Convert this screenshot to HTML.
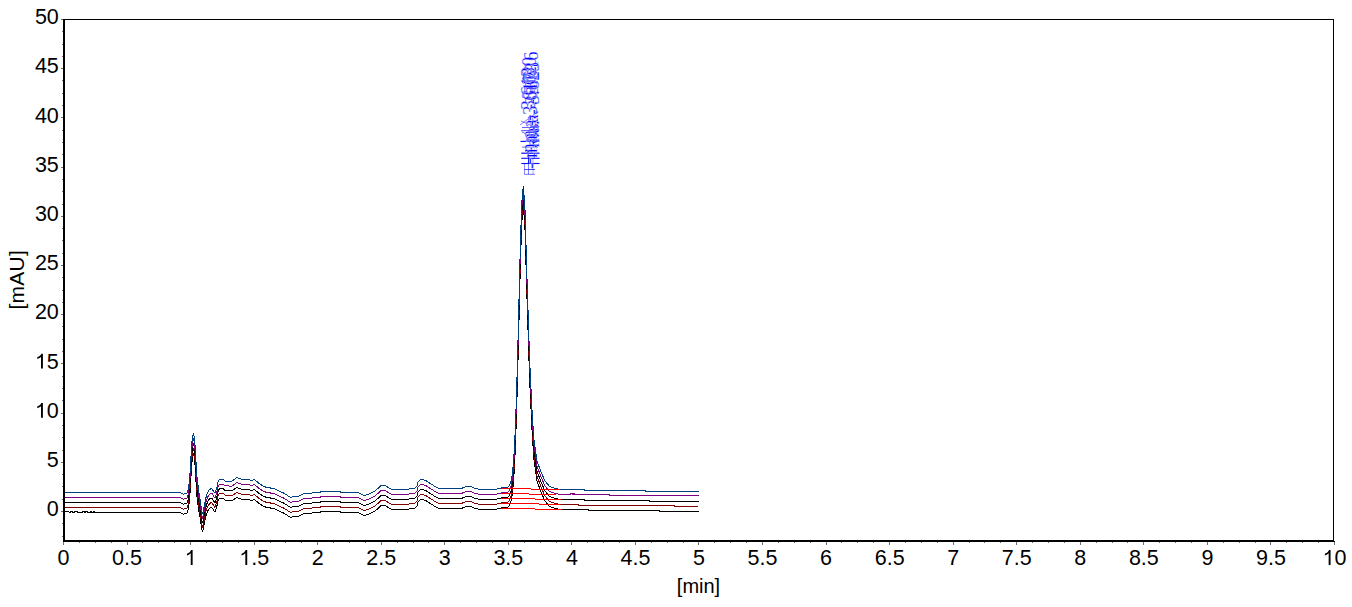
<!DOCTYPE html><html><head><meta charset="utf-8"><style>html,body{margin:0;padding:0;background:#fff;}svg{display:block}</style></head><body>
<svg width="1352" height="607" viewBox="0 0 1352 607">
<rect width="100%" height="100%" fill="#fff"/>
<polyline fill="none" stroke="#000000" stroke-width="1" shape-rendering="crispEdges" points="63.50,511.50 68.80,511.50 69.20,512.50 70.00,512.50 70.40,511.50 72.50,511.50 72.90,512.50 74.00,512.50 74.40,511.50 77.30,511.50 77.70,512.50 82.50,512.50 82.90,511.50 84.20,511.50 84.60,512.50 85.20,512.50 85.60,511.50 87.30,511.50 87.70,512.50 90.00,512.50 90.40,511.50 91.50,511.50 91.90,512.50 93.50,512.50 93.90,511.50 94.60,511.50 95.00,512.50 180.00,512.50 181.50,513.40 183.00,514.20 186.00,513.60 187.50,512.40 188.50,508.00 189.50,501.00 190.50,486.00 191.40,469.00 192.30,458.00 193.30,453.30 194.30,457.00 195.30,468.00 196.20,486.00 196.80,495.00 198.20,506.20 199.30,513.47 200.40,519.00 201.30,526.00 202.30,532.00 203.30,529.00 204.30,524.00 205.60,517.44 206.60,513.84 208.40,509.60 210.80,507.40 211.80,507.40 213.80,510.60 215.00,512.10 216.80,506.60 218.20,500.20 219.50,498.20 223.40,498.20 225.00,500.00 232.00,500.80 236.80,497.40 241.00,499.00 250.00,500.00 252.00,500.50 254.60,499.60 259.50,503.80 264.50,506.80 274.00,508.70 284.00,513.20 290.00,517.10 297.00,516.70 304.00,513.70 315.00,512.70 323.00,511.70 340.00,511.70 341.00,512.40 358.00,512.40 364.00,515.50 370.00,513.70 375.00,511.20 381.00,505.50 385.00,505.50 390.00,508.50 391.00,509.20 404.00,509.20 405.00,510.20 406.00,509.20 414.00,508.70 417.00,506.30 418.00,502.30 421.00,499.30 425.50,500.30 430.00,503.30 434.00,505.80 438.00,508.20 462.00,508.20 467.00,506.30 470.00,506.30 474.00,508.00 478.00,509.00 496.70,509.00 498.70,508.40 504.60,507.56 504.85,507.55 505.10,507.55 505.35,507.54 505.60,507.53 505.85,507.51 506.10,507.48 506.35,507.45 506.60,507.41 506.85,507.36 507.10,507.29 507.35,507.21 507.60,507.11 507.85,506.99 508.10,506.85 508.35,506.67 508.60,506.46 508.85,506.21 509.10,505.92 509.35,505.57 509.60,505.16 509.85,504.68 510.10,504.12 510.35,503.46 510.60,502.71 510.85,501.84 511.10,500.84 511.35,499.70 511.60,498.39 511.85,496.91 512.10,495.24 512.35,493.35 512.60,491.24 512.85,488.87 513.10,486.22 513.35,483.29 513.60,480.05 513.85,476.47 514.10,472.55 514.35,468.26 514.60,463.59 514.85,458.53 515.10,453.06 515.35,447.17 515.60,440.86 515.85,434.13 516.10,426.98 516.35,419.41 516.60,411.45 516.85,403.09 517.10,394.37 517.35,385.32 517.60,375.96 517.85,366.33 518.10,356.47 518.35,346.45 518.60,336.30 518.85,326.09 519.10,315.87 519.35,305.73 519.60,295.72 519.85,285.91 520.10,276.39 520.35,267.21 520.60,258.47 520.85,250.22 521.10,242.53 521.35,235.48 521.60,229.13 521.85,223.52 522.10,218.72 522.35,214.76 522.60,211.69 522.85,209.53 523.10,208.30 523.35,208.50 523.60,211.00 523.85,213.51 524.10,216.01 524.35,218.51 524.60,221.01 524.85,224.76 525.10,233.45 525.35,242.14 525.60,250.84 525.85,259.54 526.10,268.23 526.35,276.93 526.60,285.63 526.85,293.79 527.10,301.59 527.35,309.39 527.60,317.19 527.85,325.00 528.10,332.78 528.35,340.53 528.60,348.28 528.85,356.03 529.10,363.78 529.35,371.53 529.60,379.29 529.85,384.61 530.10,389.94 530.35,395.27 530.60,400.60 530.85,405.92 531.10,411.25 531.35,416.58 531.60,421.91 531.85,427.24 532.10,431.94 532.35,435.71 532.60,439.47 532.85,443.24 533.10,447.00 533.35,450.77 533.60,454.53 533.85,458.30 534.10,461.23 534.35,462.92 534.60,464.60 534.85,466.29 535.10,467.98 535.35,469.66 535.60,471.35 535.85,473.04 536.10,474.72 536.35,476.41 536.60,478.10 536.85,479.79 537.10,481.08 537.35,481.80 537.60,482.52 537.85,483.24 538.10,483.95 538.35,484.67 538.60,485.39 538.85,486.11 539.10,486.82 539.35,487.54 539.60,488.26 539.85,488.98 540.10,489.69 540.35,490.41 540.60,491.07 540.85,491.63 541.10,492.19 541.35,492.75 541.60,493.31 541.85,493.87 542.10,494.43 542.35,494.99 542.60,495.55 542.85,496.11 543.10,496.67 543.35,497.23 543.60,497.79 543.85,498.35 544.10,498.91 544.35,499.47 544.60,500.03 544.85,500.59 545.10,501.05 545.35,501.36 545.60,501.67 545.85,501.97 546.10,502.28 546.35,502.58 546.60,502.89 546.85,503.20 547.10,503.50 547.35,503.81 547.60,504.12 547.85,504.42 548.10,504.73 548.35,505.04 548.60,505.34 548.85,505.65 549.10,505.96 549.35,506.22 549.60,506.32 549.85,506.42 550.10,506.52 550.35,506.62 550.60,506.72 550.85,506.82 551.10,506.92 551.35,507.02 551.60,507.12 551.85,507.21 552.10,507.31 552.35,507.41 552.60,507.51 552.85,507.61 553.10,507.71 553.35,507.81 553.60,507.91 553.85,508.01 554.10,508.11 554.35,508.20 554.60,508.26 554.85,508.32 555.10,508.38 555.35,508.44 555.60,508.50 555.85,508.56 556.10,508.62 556.35,508.67 556.60,508.73 556.85,508.79 557.10,508.85 557.35,508.91 557.60,508.97 557.85,509.03 558.10,509.09 558.35,509.15 558.60,509.21 558.85,509.27 559.10,509.33 559.35,509.39 559.60,509.44 559.85,509.50 560.00,509.50 588.50,509.50 588.60,510.50 659.50,510.50 659.60,511.50 698.50,511.50"/>
<polyline fill="none" stroke="#800000" stroke-width="1" shape-rendering="crispEdges" points="63.50,507.50 180.00,507.50 181.50,508.40 183.00,509.20 186.00,508.60 187.50,507.40 188.50,503.00 189.50,496.00 190.50,481.00 191.40,464.00 192.30,453.00 193.30,448.30 194.30,452.00 195.30,463.00 196.20,481.00 196.80,490.00 198.20,501.40 199.30,508.85 200.40,514.50 201.30,521.50 202.30,527.50 203.30,524.50 204.30,519.50 205.60,512.88 206.60,509.18 208.40,504.90 210.80,502.70 211.80,502.70 213.80,505.90 215.00,507.40 216.80,501.90 218.20,495.50 219.50,493.50 223.40,493.50 225.00,495.30 232.00,495.90 236.80,492.40 241.00,494.00 250.00,495.00 252.00,495.50 254.60,494.60 259.50,498.80 264.50,501.80 274.00,503.70 284.00,508.20 290.00,512.10 297.00,511.70 304.00,508.70 315.00,507.70 323.00,506.70 340.00,506.70 341.00,507.40 358.00,507.40 364.00,510.50 370.00,508.70 375.00,506.20 381.00,500.50 385.00,500.50 390.00,503.50 391.00,504.20 404.00,504.20 405.00,505.20 406.00,504.20 414.00,503.70 417.00,501.30 418.00,497.30 421.00,494.30 425.50,495.30 430.00,498.30 434.00,500.80 438.00,503.20 462.00,503.20 467.00,501.30 470.00,501.30 474.00,503.00 478.00,504.00 496.70,504.00 498.70,503.40 504.60,502.56 504.85,502.55 505.10,502.55 505.35,502.54 505.60,502.53 505.85,502.51 506.10,502.48 506.35,502.45 506.60,502.41 506.85,502.36 507.10,502.29 507.35,502.21 507.60,502.11 507.85,501.99 508.10,501.85 508.35,501.67 508.60,501.46 508.85,501.21 509.10,500.92 509.35,500.57 509.60,500.16 509.85,499.68 510.10,499.12 510.35,498.46 510.60,497.71 510.85,496.84 511.10,495.84 511.35,494.70 511.60,493.39 511.85,491.91 512.10,490.24 512.35,488.35 512.60,486.24 512.85,483.87 513.10,481.22 513.35,478.29 513.60,475.05 513.85,471.47 514.10,467.55 514.35,463.26 514.60,458.59 514.85,453.53 515.10,448.06 515.35,442.17 515.60,435.86 515.85,429.13 516.10,421.98 516.35,414.41 516.60,406.45 516.85,398.09 517.10,389.37 517.35,380.32 517.60,370.96 517.85,361.33 518.10,351.47 518.35,341.45 518.60,331.30 518.85,321.09 519.10,310.87 519.35,300.73 519.60,290.72 519.85,280.91 520.10,271.39 520.35,262.21 520.60,253.47 520.85,245.22 521.10,237.53 521.35,230.48 521.60,224.13 521.85,218.52 522.10,213.72 522.35,209.76 522.60,206.69 522.85,204.53 523.10,203.30 523.35,203.50 523.60,206.00 523.85,208.51 524.10,211.01 524.35,213.51 524.60,216.01 524.85,219.76 525.10,228.45 525.35,237.14 525.60,245.84 525.85,254.54 526.10,263.23 526.35,271.93 526.60,280.63 526.85,288.79 527.10,296.59 527.35,304.39 527.60,312.19 527.85,320.00 528.10,327.78 528.35,335.53 528.60,343.28 528.85,351.03 529.10,358.78 529.35,366.53 529.60,374.29 529.85,379.61 530.10,384.94 530.35,390.27 530.60,395.60 530.85,400.92 531.10,406.25 531.35,411.58 531.60,416.91 531.85,422.24 532.10,426.94 532.35,430.71 532.60,434.47 532.85,438.24 533.10,442.00 533.35,445.77 533.60,449.53 533.85,453.30 534.10,456.23 534.35,457.92 534.60,459.60 534.85,461.29 535.10,462.98 535.35,464.66 535.60,466.35 535.85,468.04 536.10,469.72 536.35,471.41 536.60,473.10 536.85,474.79 537.10,476.08 537.35,476.80 537.60,477.52 537.85,478.24 538.10,478.95 538.35,479.67 538.60,480.39 538.85,481.11 539.10,481.82 539.35,482.54 539.60,483.26 539.85,483.98 540.10,484.69 540.35,485.41 540.60,486.07 540.85,486.63 541.10,487.19 541.35,487.75 541.60,488.31 541.85,488.87 542.10,489.43 542.35,489.99 542.60,490.55 542.85,491.11 543.10,491.67 543.35,492.23 543.60,492.79 543.85,493.35 544.10,493.91 544.35,494.47 544.60,495.03 544.85,495.59 545.10,496.05 545.35,496.36 545.60,496.67 545.85,496.97 546.10,497.28 546.35,497.58 546.60,497.89 546.85,498.20 547.10,498.50 547.35,498.81 547.60,499.12 547.85,499.42 548.10,499.73 548.35,500.04 548.60,500.34 548.85,500.65 549.10,500.96 549.35,501.22 549.60,501.32 549.85,501.42 550.10,501.52 550.35,501.62 550.60,501.72 550.85,501.82 551.10,501.92 551.35,502.02 551.60,502.12 551.85,502.21 552.10,502.31 552.35,502.41 552.60,502.51 552.85,502.61 553.10,502.71 553.35,502.81 553.60,502.91 553.85,503.01 554.10,503.11 554.35,503.20 554.60,503.26 554.85,503.32 555.10,503.38 555.35,503.44 555.60,503.50 555.85,503.56 556.10,503.62 556.35,503.67 556.60,503.73 556.85,503.79 557.10,503.85 557.35,503.91 557.60,503.97 557.85,504.03 558.10,504.09 558.35,504.15 558.60,504.21 558.85,504.27 559.10,504.33 559.35,504.39 559.60,504.44 559.85,504.50 560.00,504.50 578.50,504.50 578.60,505.50 674.50,505.50 674.60,506.50 697.50,506.50"/>
<polyline fill="none" stroke="#000000" stroke-width="1" shape-rendering="crispEdges" points="63.50,502.50 180.00,502.50 181.50,503.40 183.00,504.20 186.00,503.60 187.50,502.40 188.50,498.00 189.50,491.00 190.50,476.00 191.40,459.00 192.30,448.00 193.30,443.30 194.30,447.00 195.30,458.00 196.20,476.00 196.80,485.00 198.20,496.60 199.30,504.23 200.40,510.00 201.30,517.00 202.30,523.00 203.30,520.00 204.30,515.00 205.60,508.32 206.60,504.52 208.40,500.20 210.80,498.00 211.80,498.00 213.80,501.20 215.00,502.70 216.80,497.20 218.20,490.80 219.50,488.80 223.40,488.80 225.00,490.60 232.00,491.00 236.80,487.40 241.00,489.00 250.00,490.00 252.00,490.50 254.60,489.60 259.50,493.80 264.50,496.80 274.00,498.70 284.00,503.20 290.00,507.10 297.00,506.70 304.00,503.70 315.00,502.70 323.00,501.70 340.00,501.70 341.00,502.40 358.00,502.40 364.00,505.50 370.00,503.70 375.00,501.20 381.00,495.50 385.00,495.50 390.00,498.50 391.00,499.20 404.00,499.20 405.00,500.20 406.00,499.20 414.00,498.70 417.00,496.30 418.00,492.30 421.00,489.30 425.50,490.30 430.00,493.30 434.00,495.80 438.00,498.20 462.00,498.20 467.00,496.30 470.00,496.30 474.00,498.00 478.00,499.00 496.70,499.00 498.70,498.40 504.60,497.56 504.85,497.55 505.10,497.55 505.35,497.54 505.60,497.53 505.85,497.51 506.10,497.48 506.35,497.45 506.60,497.41 506.85,497.36 507.10,497.29 507.35,497.21 507.60,497.11 507.85,496.99 508.10,496.85 508.35,496.67 508.60,496.46 508.85,496.21 509.10,495.92 509.35,495.57 509.60,495.16 509.85,494.68 510.10,494.12 510.35,493.46 510.60,492.71 510.85,491.84 511.10,490.84 511.35,489.70 511.60,488.39 511.85,486.91 512.10,485.24 512.35,483.35 512.60,481.24 512.85,478.87 513.10,476.22 513.35,473.29 513.60,470.05 513.85,466.47 514.10,462.55 514.35,458.26 514.60,453.59 514.85,448.53 515.10,443.06 515.35,437.17 515.60,430.86 515.85,424.13 516.10,416.98 516.35,409.41 516.60,401.45 516.85,393.09 517.10,384.37 517.35,375.32 517.60,365.96 517.85,356.33 518.10,346.47 518.35,336.45 518.60,326.30 518.85,316.09 519.10,305.87 519.35,295.73 519.60,285.72 519.85,275.91 520.10,266.39 520.35,257.21 520.60,248.47 520.85,240.22 521.10,232.53 521.35,225.48 521.60,219.13 521.85,213.52 522.10,208.72 522.35,204.76 522.60,201.69 522.85,199.53 523.10,198.30 523.35,198.50 523.60,201.00 523.85,203.51 524.10,206.01 524.35,208.51 524.60,211.01 524.85,214.76 525.10,223.45 525.35,232.14 525.60,240.84 525.85,249.54 526.10,258.23 526.35,266.93 526.60,275.63 526.85,283.79 527.10,291.59 527.35,299.39 527.60,307.19 527.85,315.00 528.10,322.78 528.35,330.53 528.60,338.28 528.85,346.03 529.10,353.78 529.35,361.53 529.60,369.29 529.85,374.61 530.10,379.94 530.35,385.27 530.60,390.60 530.85,395.92 531.10,401.25 531.35,406.58 531.60,411.91 531.85,417.24 532.10,421.94 532.35,425.71 532.60,429.47 532.85,433.24 533.10,437.00 533.35,440.77 533.60,444.53 533.85,448.30 534.10,451.23 534.35,452.92 534.60,454.60 534.85,456.29 535.10,457.98 535.35,459.66 535.60,461.35 535.85,463.04 536.10,464.72 536.35,466.41 536.60,468.10 536.85,469.79 537.10,471.08 537.35,471.80 537.60,472.52 537.85,473.24 538.10,473.95 538.35,474.67 538.60,475.39 538.85,476.11 539.10,476.82 539.35,477.54 539.60,478.26 539.85,478.98 540.10,479.69 540.35,480.41 540.60,481.07 540.85,481.63 541.10,482.19 541.35,482.75 541.60,483.31 541.85,483.87 542.10,484.43 542.35,484.99 542.60,485.55 542.85,486.11 543.10,486.67 543.35,487.23 543.60,487.79 543.85,488.35 544.10,488.91 544.35,489.47 544.60,490.03 544.85,490.59 545.10,491.05 545.35,491.36 545.60,491.67 545.85,491.97 546.10,492.28 546.35,492.58 546.60,492.89 546.85,493.20 547.10,493.50 547.35,493.81 547.60,494.12 547.85,494.42 548.10,494.73 548.35,495.04 548.60,495.34 548.85,495.65 549.10,495.96 549.35,496.22 549.60,496.32 549.85,496.42 550.10,496.52 550.35,496.62 550.60,496.72 550.85,496.82 551.10,496.92 551.35,497.02 551.60,497.12 551.85,497.21 552.10,497.31 552.35,497.41 552.60,497.51 552.85,497.61 553.10,497.71 553.35,497.81 553.60,497.91 553.85,498.01 554.10,498.11 554.35,498.20 554.60,498.26 554.85,498.32 555.10,498.38 555.35,498.44 555.60,498.50 555.85,498.56 556.10,498.62 556.35,498.67 556.60,498.73 556.85,498.79 557.10,498.85 557.35,498.91 557.60,498.97 557.85,499.03 558.10,499.09 558.35,499.15 558.60,499.21 558.85,499.27 559.10,499.33 559.35,499.39 559.60,499.44 559.85,499.50 560.00,499.50 584.50,499.50 584.60,500.50 649.50,500.50 649.60,501.50 698.50,501.50"/>
<polyline fill="none" stroke="#800080" stroke-width="1" shape-rendering="crispEdges" points="63.50,497.50 180.00,497.50 181.50,498.40 183.00,499.20 186.00,498.60 187.50,497.40 188.50,493.00 189.50,486.00 190.50,471.00 191.40,454.00 192.30,443.00 193.30,438.30 194.30,442.00 195.30,453.00 196.20,471.00 196.80,480.00 198.20,491.80 199.30,499.62 200.40,505.50 201.30,512.50 202.30,518.50 203.30,515.50 204.30,510.50 205.60,503.76 206.60,499.86 208.40,495.50 210.80,493.30 211.80,493.30 213.80,496.50 215.00,498.00 216.80,492.50 218.20,486.10 219.50,484.10 223.40,484.10 225.00,485.90 232.00,486.10 236.80,482.40 241.00,484.00 250.00,485.00 252.00,485.50 254.60,484.60 259.50,488.80 264.50,491.80 274.00,493.70 284.00,498.20 290.00,502.10 297.00,501.70 304.00,498.70 315.00,497.70 323.00,496.70 340.00,496.70 341.00,497.40 358.00,497.40 364.00,500.50 370.00,498.70 375.00,496.20 381.00,490.50 385.00,490.50 390.00,493.50 391.00,494.20 404.00,494.20 405.00,495.20 406.00,494.20 414.00,493.70 417.00,491.30 418.00,487.30 421.00,484.30 425.50,485.30 430.00,488.30 434.00,490.80 438.00,493.20 462.00,493.20 467.00,491.30 470.00,491.30 474.00,493.00 478.00,494.00 496.70,494.00 498.70,493.40 504.60,492.56 504.85,492.55 505.10,492.55 505.35,492.54 505.60,492.53 505.85,492.51 506.10,492.48 506.35,492.45 506.60,492.41 506.85,492.36 507.10,492.29 507.35,492.21 507.60,492.11 507.85,491.99 508.10,491.85 508.35,491.67 508.60,491.46 508.85,491.21 509.10,490.92 509.35,490.57 509.60,490.16 509.85,489.68 510.10,489.12 510.35,488.46 510.60,487.71 510.85,486.84 511.10,485.84 511.35,484.70 511.60,483.39 511.85,481.91 512.10,480.24 512.35,478.35 512.60,476.24 512.85,473.87 513.10,471.22 513.35,468.29 513.60,465.05 513.85,461.47 514.10,457.55 514.35,453.26 514.60,448.59 514.85,443.53 515.10,438.06 515.35,432.17 515.60,425.86 515.85,419.13 516.10,411.98 516.35,404.41 516.60,396.45 516.85,388.09 517.10,379.37 517.35,370.32 517.60,360.96 517.85,351.33 518.10,341.47 518.35,331.45 518.60,321.30 518.85,311.09 519.10,300.87 519.35,290.73 519.60,280.72 519.85,270.91 520.10,261.39 520.35,252.21 520.60,243.47 520.85,235.22 521.10,227.53 521.35,220.48 521.60,214.13 521.85,208.52 522.10,203.72 522.35,199.76 522.60,196.69 522.85,194.53 523.10,193.30 523.35,193.50 523.60,196.00 523.85,198.51 524.10,201.01 524.35,203.51 524.60,206.01 524.85,209.76 525.10,218.45 525.35,227.14 525.60,235.84 525.85,244.54 526.10,253.23 526.35,261.93 526.60,270.63 526.85,278.79 527.10,286.59 527.35,294.39 527.60,302.19 527.85,310.00 528.10,317.78 528.35,325.53 528.60,333.28 528.85,341.03 529.10,348.78 529.35,356.53 529.60,364.29 529.85,369.61 530.10,374.94 530.35,380.27 530.60,385.60 530.85,390.92 531.10,396.25 531.35,401.58 531.60,406.91 531.85,412.24 532.10,416.94 532.35,420.71 532.60,424.47 532.85,428.24 533.10,432.00 533.35,435.77 533.60,439.53 533.85,443.30 534.10,446.23 534.35,447.92 534.60,449.60 534.85,451.29 535.10,452.98 535.35,454.66 535.60,456.35 535.85,458.04 536.10,459.72 536.35,461.41 536.60,463.10 536.85,464.79 537.10,466.08 537.35,466.80 537.60,467.52 537.85,468.24 538.10,468.95 538.35,469.67 538.60,470.39 538.85,471.11 539.10,471.82 539.35,472.54 539.60,473.26 539.85,473.98 540.10,474.69 540.35,475.41 540.60,476.07 540.85,476.63 541.10,477.19 541.35,477.75 541.60,478.31 541.85,478.87 542.10,479.43 542.35,479.99 542.60,480.55 542.85,481.11 543.10,481.67 543.35,482.23 543.60,482.79 543.85,483.35 544.10,483.91 544.35,484.47 544.60,485.03 544.85,485.59 545.10,486.05 545.35,486.36 545.60,486.67 545.85,486.97 546.10,487.28 546.35,487.58 546.60,487.89 546.85,488.20 547.10,488.50 547.35,488.81 547.60,489.12 547.85,489.42 548.10,489.73 548.35,490.04 548.60,490.34 548.85,490.65 549.10,490.96 549.35,491.22 549.60,491.32 549.85,491.42 550.10,491.52 550.35,491.62 550.60,491.72 550.85,491.82 551.10,491.92 551.35,492.02 551.60,492.12 551.85,492.21 552.10,492.31 552.35,492.41 552.60,492.51 552.85,492.61 553.10,492.71 553.35,492.81 553.60,492.91 553.85,493.01 554.10,493.11 554.35,493.20 554.60,493.26 554.85,493.32 555.10,493.38 555.35,493.44 555.60,493.50 555.85,493.56 556.10,493.62 556.35,493.67 556.60,493.73 556.85,493.79 557.10,493.85 557.35,493.91 557.60,493.97 557.85,494.03 558.10,494.09 558.35,494.15 558.60,494.21 558.85,494.27 559.10,494.33 559.35,494.39 559.60,494.44 559.85,494.50 560.00,494.50 570.80,494.50 571.00,493.50 572.50,493.50 572.70,494.50 573.50,494.50 573.70,493.50 574.20,493.50 574.40,494.50 609.50,494.50 609.60,495.50 698.50,495.50"/>
<polyline fill="none" stroke="#004080" stroke-width="1" shape-rendering="crispEdges" points="63.50,492.50 180.00,492.50 181.50,493.40 183.00,494.20 186.00,493.60 187.50,492.40 188.50,488.00 189.50,481.00 190.50,466.00 191.40,449.00 192.30,438.00 193.30,433.30 194.30,437.00 195.30,448.00 196.20,466.00 196.80,475.00 198.20,487.00 199.30,495.00 200.40,501.00 201.30,508.00 202.30,514.00 203.30,511.00 204.30,506.00 205.60,499.20 206.60,495.20 208.40,490.80 210.80,488.60 211.80,488.60 213.80,491.80 215.00,493.30 216.80,487.80 218.20,481.40 219.50,479.40 223.40,479.40 225.00,481.20 232.00,481.20 236.80,477.40 241.00,479.00 250.00,480.00 252.00,480.50 254.60,479.60 259.50,483.80 264.50,486.80 274.00,488.70 284.00,493.20 290.00,497.10 297.00,496.70 304.00,493.70 315.00,492.70 323.00,491.70 340.00,491.70 341.00,492.40 358.00,492.40 364.00,495.50 370.00,493.70 375.00,491.20 381.00,485.50 385.00,485.50 390.00,488.50 391.00,489.20 404.00,489.20 405.00,490.20 406.00,489.20 414.00,488.70 417.00,486.30 418.00,482.30 421.00,479.30 425.50,480.30 430.00,483.30 434.00,485.80 438.00,488.20 462.00,488.20 467.00,486.30 470.00,486.30 474.00,488.00 478.00,489.00 496.70,489.00 498.70,488.40 504.60,487.56 504.85,487.55 505.10,487.55 505.35,487.54 505.60,487.53 505.85,487.51 506.10,487.48 506.35,487.45 506.60,487.41 506.85,487.36 507.10,487.29 507.35,487.21 507.60,487.11 507.85,486.99 508.10,486.85 508.35,486.67 508.60,486.46 508.85,486.21 509.10,485.92 509.35,485.57 509.60,485.16 509.85,484.68 510.10,484.12 510.35,483.46 510.60,482.71 510.85,481.84 511.10,480.84 511.35,479.70 511.60,478.39 511.85,476.91 512.10,475.24 512.35,473.35 512.60,471.24 512.85,468.87 513.10,466.22 513.35,463.29 513.60,460.05 513.85,456.47 514.10,452.55 514.35,448.26 514.60,443.59 514.85,438.53 515.10,433.06 515.35,427.17 515.60,420.86 515.85,414.13 516.10,406.98 516.35,399.41 516.60,391.45 516.85,383.09 517.10,374.37 517.35,365.32 517.60,355.96 517.85,346.33 518.10,336.47 518.35,326.45 518.60,316.30 518.85,306.09 519.10,295.87 519.35,285.73 519.60,275.72 519.85,265.91 520.10,256.39 520.35,247.21 520.60,238.47 520.85,230.22 521.10,222.53 521.35,215.48 521.60,209.13 521.85,203.52 522.10,198.72 522.35,194.76 522.60,191.69 522.85,189.53 523.10,188.30 523.35,188.50 523.60,191.00 523.85,193.51 524.10,196.01 524.35,198.51 524.60,201.01 524.85,204.76 525.10,213.45 525.35,222.14 525.60,230.84 525.85,239.54 526.10,248.23 526.35,256.93 526.60,265.63 526.85,273.79 527.10,281.59 527.35,289.39 527.60,297.19 527.85,305.00 528.10,312.78 528.35,320.53 528.60,328.28 528.85,336.03 529.10,343.78 529.35,351.53 529.60,359.29 529.85,364.61 530.10,369.94 530.35,375.27 530.60,380.60 530.85,385.92 531.10,391.25 531.35,396.58 531.60,401.91 531.85,407.24 532.10,411.94 532.35,415.71 532.60,419.47 532.85,423.24 533.10,427.00 533.35,430.77 533.60,434.53 533.85,438.30 534.10,441.23 534.35,442.92 534.60,444.60 534.85,446.29 535.10,447.98 535.35,449.66 535.60,451.35 535.85,453.04 536.10,454.72 536.35,456.41 536.60,458.10 536.85,459.79 537.10,461.08 537.35,461.80 537.60,462.52 537.85,463.24 538.10,463.95 538.35,464.67 538.60,465.39 538.85,466.11 539.10,466.82 539.35,467.54 539.60,468.26 539.85,468.98 540.10,469.69 540.35,470.41 540.60,471.07 540.85,471.63 541.10,472.19 541.35,472.75 541.60,473.31 541.85,473.87 542.10,474.43 542.35,474.99 542.60,475.55 542.85,476.11 543.10,476.67 543.35,477.23 543.60,477.79 543.85,478.35 544.10,478.91 544.35,479.47 544.60,480.03 544.85,480.59 545.10,481.05 545.35,481.36 545.60,481.67 545.85,481.97 546.10,482.28 546.35,482.58 546.60,482.89 546.85,483.20 547.10,483.50 547.35,483.81 547.60,484.12 547.85,484.42 548.10,484.73 548.35,485.04 548.60,485.34 548.85,485.65 549.10,485.96 549.35,486.22 549.60,486.32 549.85,486.42 550.10,486.52 550.35,486.62 550.60,486.72 550.85,486.82 551.10,486.92 551.35,487.02 551.60,487.12 551.85,487.21 552.10,487.31 552.35,487.41 552.60,487.51 552.85,487.61 553.10,487.71 553.35,487.81 553.60,487.91 553.85,488.01 554.10,488.11 554.35,488.20 554.60,488.26 554.85,488.32 555.10,488.38 555.35,488.44 555.60,488.50 555.85,488.56 556.10,488.62 556.35,488.67 556.60,488.73 556.85,488.79 557.10,488.85 557.35,488.91 557.60,488.97 557.85,489.03 558.10,489.09 558.35,489.15 558.60,489.21 558.85,489.27 559.10,489.33 559.35,489.39 559.60,489.44 559.85,489.50 560.00,489.50 584.50,489.50 584.60,490.50 645.50,490.50 645.60,491.50 698.50,491.50"/>
<line x1="501.2" y1="488.6" x2="560" y2="489.4" stroke="#ff0000" stroke-width="1" shape-rendering="crispEdges"/>
<line x1="501.2" y1="493.6" x2="556" y2="494.4" stroke="#ff0000" stroke-width="1" shape-rendering="crispEdges"/>
<line x1="501.2" y1="498.5" x2="561" y2="499.4" stroke="#ff0000" stroke-width="1" shape-rendering="crispEdges"/>
<line x1="501.2" y1="503.3" x2="560" y2="504.4" stroke="#ff0000" stroke-width="1" shape-rendering="crispEdges"/>
<line x1="501.2" y1="508.4" x2="562" y2="509.5" stroke="#ff0000" stroke-width="1" shape-rendering="crispEdges"/>
<line x1="523.5" y1="186" x2="523.5" y2="190" stroke="#0000ff" stroke-width="1"/>
<g fill="#000">
<rect x="63" y="19" width="1271" height="1"/>
<rect x="1333" y="19" width="1" height="523"/>
<rect x="63" y="19" width="2" height="523"/>
<rect x="63" y="540" width="1271" height="2"/>
<rect x="1334" y="541" width="1" height="1"/>
</g>
<g fill="#707070">
<rect x="63" y="542" width="1" height="3"/>
<rect x="79" y="542" width="1" height="1"/>
<rect x="95" y="542" width="1" height="1"/>
<rect x="111" y="542" width="1" height="1"/>
<rect x="127" y="542" width="1" height="3"/>
<rect x="142" y="542" width="1" height="1"/>
<rect x="158" y="542" width="1" height="1"/>
<rect x="174" y="542" width="1" height="1"/>
<rect x="190" y="542" width="1" height="3"/>
<rect x="206" y="542" width="1" height="1"/>
<rect x="222" y="542" width="1" height="1"/>
<rect x="238" y="542" width="1" height="1"/>
<rect x="254" y="542" width="1" height="3"/>
<rect x="270" y="542" width="1" height="1"/>
<rect x="285" y="542" width="1" height="1"/>
<rect x="301" y="542" width="1" height="1"/>
<rect x="317" y="542" width="1" height="3"/>
<rect x="333" y="542" width="1" height="1"/>
<rect x="349" y="542" width="1" height="1"/>
<rect x="365" y="542" width="1" height="1"/>
<rect x="381" y="542" width="1" height="3"/>
<rect x="397" y="542" width="1" height="1"/>
<rect x="413" y="542" width="1" height="1"/>
<rect x="428" y="542" width="1" height="1"/>
<rect x="444" y="542" width="1" height="3"/>
<rect x="460" y="542" width="1" height="1"/>
<rect x="476" y="542" width="1" height="1"/>
<rect x="492" y="542" width="1" height="1"/>
<rect x="508" y="542" width="1" height="3"/>
<rect x="524" y="542" width="1" height="1"/>
<rect x="540" y="542" width="1" height="1"/>
<rect x="556" y="542" width="1" height="1"/>
<rect x="571" y="542" width="1" height="3"/>
<rect x="587" y="542" width="1" height="1"/>
<rect x="603" y="542" width="1" height="1"/>
<rect x="619" y="542" width="1" height="1"/>
<rect x="635" y="542" width="1" height="3"/>
<rect x="651" y="542" width="1" height="1"/>
<rect x="667" y="542" width="1" height="1"/>
<rect x="683" y="542" width="1" height="1"/>
<rect x="698" y="542" width="1" height="3"/>
<rect x="714" y="542" width="1" height="1"/>
<rect x="730" y="542" width="1" height="1"/>
<rect x="746" y="542" width="1" height="1"/>
<rect x="762" y="542" width="1" height="3"/>
<rect x="778" y="542" width="1" height="1"/>
<rect x="794" y="542" width="1" height="1"/>
<rect x="810" y="542" width="1" height="1"/>
<rect x="826" y="542" width="1" height="3"/>
<rect x="841" y="542" width="1" height="1"/>
<rect x="857" y="542" width="1" height="1"/>
<rect x="873" y="542" width="1" height="1"/>
<rect x="889" y="542" width="1" height="3"/>
<rect x="905" y="542" width="1" height="1"/>
<rect x="921" y="542" width="1" height="1"/>
<rect x="937" y="542" width="1" height="1"/>
<rect x="953" y="542" width="1" height="3"/>
<rect x="969" y="542" width="1" height="1"/>
<rect x="984" y="542" width="1" height="1"/>
<rect x="1000" y="542" width="1" height="1"/>
<rect x="1016" y="542" width="1" height="3"/>
<rect x="1032" y="542" width="1" height="1"/>
<rect x="1048" y="542" width="1" height="1"/>
<rect x="1064" y="542" width="1" height="1"/>
<rect x="1080" y="542" width="1" height="3"/>
<rect x="1096" y="542" width="1" height="1"/>
<rect x="1112" y="542" width="1" height="1"/>
<rect x="1127" y="542" width="1" height="1"/>
<rect x="1143" y="542" width="1" height="3"/>
<rect x="1159" y="542" width="1" height="1"/>
<rect x="1175" y="542" width="1" height="1"/>
<rect x="1191" y="542" width="1" height="1"/>
<rect x="1207" y="542" width="1" height="3"/>
<rect x="1223" y="542" width="1" height="1"/>
<rect x="1239" y="542" width="1" height="1"/>
<rect x="1255" y="542" width="1" height="1"/>
<rect x="1270" y="542" width="1" height="3"/>
<rect x="1286" y="542" width="1" height="1"/>
<rect x="1302" y="542" width="1" height="1"/>
<rect x="1318" y="542" width="1" height="1"/>
<rect x="1334" y="542" width="1" height="3"/>
<rect x="62" y="536" width="1" height="1"/>
<rect x="62" y="523" width="1" height="1"/>
<rect x="61" y="511" width="2" height="1"/>
<rect x="62" y="499" width="1" height="1"/>
<rect x="62" y="486" width="1" height="1"/>
<rect x="62" y="474" width="1" height="1"/>
<rect x="61" y="462" width="2" height="1"/>
<rect x="62" y="450" width="1" height="1"/>
<rect x="62" y="437" width="1" height="1"/>
<rect x="62" y="425" width="1" height="1"/>
<rect x="61" y="413" width="2" height="1"/>
<rect x="62" y="400" width="1" height="1"/>
<rect x="62" y="388" width="1" height="1"/>
<rect x="62" y="376" width="1" height="1"/>
<rect x="61" y="363" width="2" height="1"/>
<rect x="62" y="351" width="1" height="1"/>
<rect x="62" y="339" width="1" height="1"/>
<rect x="62" y="326" width="1" height="1"/>
<rect x="61" y="314" width="2" height="1"/>
<rect x="62" y="302" width="1" height="1"/>
<rect x="62" y="290" width="1" height="1"/>
<rect x="62" y="277" width="1" height="1"/>
<rect x="61" y="265" width="2" height="1"/>
<rect x="62" y="253" width="1" height="1"/>
<rect x="62" y="240" width="1" height="1"/>
<rect x="62" y="228" width="1" height="1"/>
<rect x="61" y="216" width="2" height="1"/>
<rect x="62" y="204" width="1" height="1"/>
<rect x="62" y="191" width="1" height="1"/>
<rect x="62" y="179" width="1" height="1"/>
<rect x="61" y="167" width="2" height="1"/>
<rect x="62" y="154" width="1" height="1"/>
<rect x="62" y="142" width="1" height="1"/>
<rect x="62" y="130" width="1" height="1"/>
<rect x="61" y="117" width="2" height="1"/>
<rect x="62" y="105" width="1" height="1"/>
<rect x="62" y="93" width="1" height="1"/>
<rect x="62" y="80" width="1" height="1"/>
<rect x="61" y="68" width="2" height="1"/>
<rect x="62" y="56" width="1" height="1"/>
<rect x="62" y="44" width="1" height="1"/>
<rect x="62" y="31" width="1" height="1"/>
<rect x="61" y="19" width="2" height="1"/>
</g>
<g font-family="Liberation Sans, sans-serif" font-size="21.5" fill="#000">
<text x="63.50" y="564.90" text-anchor="middle">0</text>
<text x="127.05" y="564.90" text-anchor="middle">0.5</text>
<text x="190.60" y="564.90" text-anchor="middle"> </text>
<path transform="translate(184.62,564.90) scale(0.010498,-0.010498)" d="M763 0L583 0L583 1102Q530 1050 440 998Q330 940 223 902L223 1069Q380 1130 480 1215Q580 1300 620 1409L763 1409Z"/>
<text x="254.15" y="564.90" text-anchor="middle"> .5</text>
<path transform="translate(239.21,564.90) scale(0.010498,-0.010498)" d="M763 0L583 0L583 1102Q530 1050 440 998Q330 940 223 902L223 1069Q380 1130 480 1215Q580 1300 620 1409L763 1409Z"/>
<text x="317.70" y="564.90" text-anchor="middle">2</text>
<text x="381.25" y="564.90" text-anchor="middle">2.5</text>
<text x="444.80" y="564.90" text-anchor="middle">3</text>
<text x="508.35" y="564.90" text-anchor="middle">3.5</text>
<text x="571.90" y="564.90" text-anchor="middle">4</text>
<text x="635.45" y="564.90" text-anchor="middle">4.5</text>
<text x="699.00" y="564.90" text-anchor="middle">5</text>
<text x="762.55" y="564.90" text-anchor="middle">5.5</text>
<text x="826.10" y="564.90" text-anchor="middle">6</text>
<text x="889.65" y="564.90" text-anchor="middle">6.5</text>
<text x="953.20" y="564.90" text-anchor="middle">7</text>
<text x="1016.75" y="564.90" text-anchor="middle">7.5</text>
<text x="1080.30" y="564.90" text-anchor="middle">8</text>
<text x="1143.85" y="564.90" text-anchor="middle">8.5</text>
<text x="1207.40" y="564.90" text-anchor="middle">9</text>
<text x="1270.95" y="564.90" text-anchor="middle">9.5</text>
<text x="1334.50" y="564.90" text-anchor="middle"> 0</text>
<path transform="translate(1322.54,564.90) scale(0.010498,-0.010498)" d="M763 0L583 0L583 1102Q530 1050 440 998Q330 940 223 902L223 1069Q380 1130 480 1215Q580 1300 620 1409L763 1409Z"/>
<text x="58.80" y="516.10" text-anchor="end">0</text>
<text x="58.80" y="466.90" text-anchor="end">5</text>
<text x="58.80" y="417.70" text-anchor="end"> 0</text>
<path transform="translate(34.89,417.70) scale(0.010498,-0.010498)" d="M763 0L583 0L583 1102Q530 1050 440 998Q330 940 223 902L223 1069Q380 1130 480 1215Q580 1300 620 1409L763 1409Z"/>
<text x="58.80" y="368.50" text-anchor="end"> 5</text>
<path transform="translate(34.89,368.50) scale(0.010498,-0.010498)" d="M763 0L583 0L583 1102Q530 1050 440 998Q330 940 223 902L223 1069Q380 1130 480 1215Q580 1300 620 1409L763 1409Z"/>
<text x="58.80" y="319.30" text-anchor="end">20</text>
<text x="58.80" y="270.10" text-anchor="end">25</text>
<text x="58.80" y="220.90" text-anchor="end">30</text>
<text x="58.80" y="171.70" text-anchor="end">35</text>
<text x="58.80" y="122.50" text-anchor="end">40</text>
<text x="58.80" y="73.30" text-anchor="end">45</text>
<text x="58.80" y="24.10" text-anchor="end">50</text>
</g>
<g font-family="Liberation Sans, sans-serif" fill="#000">
<text x="698.5" y="593" font-size="20" text-anchor="middle">[min]</text>
<text transform="translate(23.6,279.7) rotate(-90)" font-size="21" letter-spacing="0.3" text-anchor="middle">[mAU]</text>
</g>
<g stroke="#0000ff" fill="none">
<line x1="522" y1="127.5" x2="538" y2="127.5" stroke-width="1" stroke-opacity="0.6"/>
<line x1="521" y1="130.7" x2="539" y2="130.7" stroke-width="1" stroke-opacity="0.7"/>
<line x1="520.5" y1="141.4" x2="539.5" y2="141.4" stroke-width="1.2" stroke-opacity="0.95"/>
<line x1="522" y1="147.1" x2="538" y2="147.1" stroke-width="1" stroke-opacity="0.6"/>
<line x1="521.3" y1="153.2" x2="539.5" y2="153.2" stroke-width="1.2" stroke-opacity="1"/>
<line x1="521.3" y1="158.3" x2="539.5" y2="158.3" stroke-width="1.1" stroke-opacity="0.95"/>
<line x1="521.3" y1="163.5" x2="539.5" y2="163.5" stroke-width="1.1" stroke-opacity="0.95"/>
<line x1="524.3" y1="169.5" x2="535" y2="169.5" stroke-width="1" stroke-opacity="0.7"/>
<line x1="524.3" y1="174.3" x2="535" y2="174.3" stroke-width="1" stroke-opacity="0.55"/>
<line x1="524.5" y1="163.5" x2="524.5" y2="174.3" stroke-width="1" stroke-opacity="0.45"/>
<line x1="528.5" y1="153.2" x2="528.5" y2="163.5" stroke-width="1" stroke-opacity="0.9"/>
<line x1="528.5" y1="163.5" x2="528.5" y2="174.3" stroke-width="1" stroke-opacity="0.5"/>
<line x1="533" y1="158.3" x2="533" y2="174.3" stroke-width="1" stroke-opacity="0.35"/>
<line x1="522" y1="132" x2="538" y2="140" stroke-width="1" stroke-opacity="0.6"/>
<line x1="521" y1="121" x2="537" y2="128" stroke-width="1" stroke-opacity="0.5"/>
<line x1="520" y1="125" x2="536" y2="113" stroke-width="1" stroke-opacity="0.5"/>
</g>
<g font-family="Liberation Serif, serif" font-size="21" fill="#0000ff" stroke="#fff" stroke-width="0.3" paint-order="fill">
<text transform="translate(538,148.0) rotate(-90) scale(0.9,1)">- n.a. - 3.616</text>
<text transform="translate(536,153.25) rotate(-90) scale(0.9,1)">- n.a. - 3.620</text>
<text transform="translate(539,158.5) rotate(-90) scale(0.9,1)">- n.a. - 3.623</text>
<text transform="translate(535,163.75) rotate(-90) scale(0.9,1)">- n.a. - 3.613</text>
<text transform="translate(537,169.0) rotate(-90) scale(0.9,1)">- n.a. - 3.617</text>
</g>
</svg></body></html>
